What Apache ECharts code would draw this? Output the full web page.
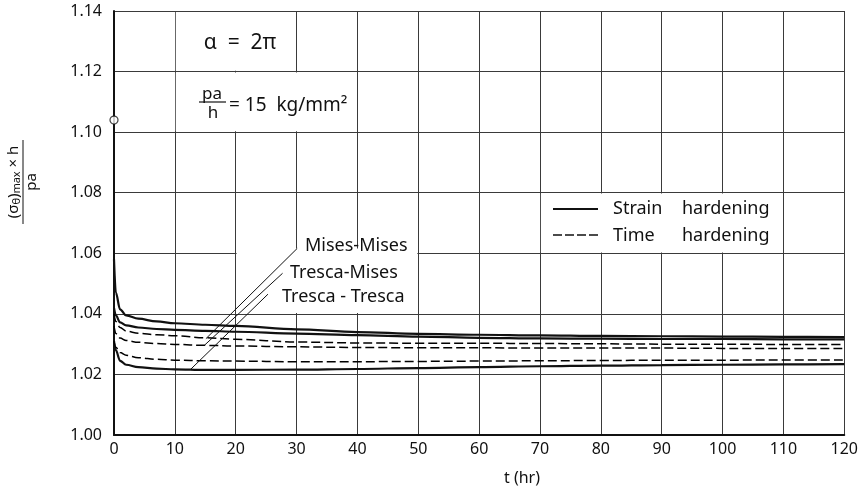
<!DOCTYPE html>
<html><head><meta charset="utf-8">
<script src="https://cdn.jsdelivr.net/npm/echarts@6/dist/echarts.min.js"></script>
<style>html,body{margin:0;padding:0;background:#fff}#c{width:861px;height:493px}</style>
</head><body><div id="c"></div>
<script>
// ---- data ----
const tHours = [0, 0.3, 1, 2, 4, 7, 10, 15, 20, 30, 40, 50, 60, 70, 80, 90, 100, 110, 120];
const strainMisesMises   = [1.058, 1.047, 1.0415, 1.0395, 1.0384, 1.0375, 1.0369, 1.0364, 1.0360, 1.0349, 1.0340, 1.0334, 1.0331, 1.0329, 1.0327, 1.0326, 1.0325, 1.0324, 1.0323];
const strainTrescaMises  = [1.042, 1.0395, 1.0372, 1.0362, 1.0355, 1.0350, 1.0347, 1.0344, 1.0341, 1.0335, 1.0330, 1.0325, 1.0321, 1.0319, 1.0318, 1.0317, 1.0317, 1.0316, 1.0316];
const strainTrescaTresca = [1.031, 1.028, 1.0245, 1.0232, 1.0224, 1.0219, 1.0217, 1.0215, 1.0215, 1.0216, 1.0218, 1.0221, 1.0224, 1.0227, 1.0229, 1.0231, 1.0232, 1.0233, 1.0234];
const timeMisesMises     = [1.040, 1.0375, 1.0355, 1.0343, 1.0336, 1.0331, 1.0328, 1.0321, 1.0316, 1.0307, 1.0304, 1.0303, 1.0303, 1.0302, 1.0301, 1.0300, 1.0300, 1.0299, 1.0299];
const timeTrescaMises    = [1.036, 1.0335, 1.0320, 1.0312, 1.0306, 1.0302, 1.0299, 1.0296, 1.0294, 1.0291, 1.0289, 1.0288, 1.0288, 1.0287, 1.0287, 1.0287, 1.0286, 1.0286, 1.0286];
const timeTrescaTresca   = [1.031, 1.029, 1.0272, 1.0263, 1.0255, 1.0250, 1.0247, 1.0245, 1.0244, 1.0242, 1.0242, 1.0243, 1.0244, 1.0245, 1.0246, 1.0247, 1.0247, 1.0248, 1.0248];
const initialValue = [[0, 1.104]];
const xMin = 0, xMax = 120, xStep = 10;
const yMin = 1.00, yMax = 1.14, yStep = 0.02;
const curveLabels = ['Mises-Mises', 'Tresca-Mises', 'Tresca - Tresca'];
const legendNames = ['Strain hardening', 'Time hardening'];

const FONT = 'Noto Sans';
const INK = '#111';
const pairs = d => tHours.map((t, i) => [t, d[i]]);
const solid = d => ({
  name: legendNames[0], type: 'line', data: pairs(d), symbol: 'none', smooth: 0.35, smoothMonotone: 'x',
  lineStyle: { color: INK, width: 2.2 }, z: 4, silent: true
});
const dashed = d => ({
  name: legendNames[1], type: 'line', data: pairs(d), symbol: 'none', smooth: 0.35, smoothMonotone: 'x',
  lineStyle: { color: '#000', width: 1.5, type: [9, 4] }, z: 4, silent: true
});

const chart = echarts.init(document.getElementById('c'));
const option = {
  animation: false,
  backgroundColor: '#fff',
  grid: { left: 114, right: 16, top: 11, bottom: 58 },
  xAxis: {
    type: 'value', min: xMin, max: xMax, interval: xStep,
    axisLine: { show: true, onZero: false, lineStyle: { color: INK, width: 2 } },
    axisTick: { show: false },
    axisLabel: { fontFamily: FONT, fontSize: 16, color: INK, margin: 6 },
    splitLine: { show: true, lineStyle: { color: '#3a3a3a', width: 1 } }
  },
  yAxis: {
    type: 'value', min: yMin, max: yMax, interval: yStep,
    axisLine: { show: true, lineStyle: { color: INK, width: 2 } },
    axisTick: { show: false },
    axisLabel: { fontFamily: FONT, fontSize: 16, color: INK, margin: 12, formatter: v => v.toFixed(2) },
    splitLine: { show: true, lineStyle: { color: '#3a3a3a', width: 1 } }
  },
  series: [
    {
      type: 'line', data: [], z: 3, silent: true,
      markArea: {
        silent: true,
        itemStyle: { color: '#fff', opacity: 1 },
        data: [
          [{ coord: [10.15, 1.1203] }, { coord: [29.85, 1.1397] }],
          [{ coord: [10.15, 1.1003] }, { coord: [39.85, 1.1197] }],
          [{ coord: [70.15, 1.0603] }, { coord: [109.85, 1.0797] }],
          [{ coord: [20.15, 1.0403] }, { coord: [49.85, 1.0616] }]
        ]
      },
      markLine: {
        silent: true, symbol: ['none', 'none'], label: { show: false },
        lineStyle: { color: INK, width: 1, type: 'solid' },
        data: [
          [{ coord: [30.1, 1.0616] }, { coord: [15.1, 1.0318] }],
          [{ coord: [27.7, 1.0534] }, { coord: [14.9, 1.0297] }],
          [{ coord: [25.3, 1.0465] }, { coord: [12.5, 1.0215] }]
        ]
      }
    },
    solid(strainMisesMises), solid(strainTrescaMises), solid(strainTrescaTresca),
    dashed(timeMisesMises), dashed(timeTrescaMises), dashed(timeTrescaTresca),
    {
      type: 'scatter', data: initialValue, symbol: 'circle', symbolSize: 8, z: 6, silent: true,
      itemStyle: { color: '#fff', borderColor: INK, borderWidth: 1.2 }
    }
  ]
};
chart.setOption(option);

const Z = 100;
const txt = (x, y, text, size, align) => ({
  type: 'text', x, y, z: Z, silent: true,
  style: { text, fontFamily: FONT, fontSize: size, fill: INK, align: align || 'left', verticalAlign: 'middle' }
});
const seg = (x1, y1, x2, y2, w, dash) => ({
  type: 'line', z: Z, silent: true, shape: { x1, y1, x2, y2 },
  style: dash ? { stroke: INK, lineWidth: w, lineDash: dash } : { stroke: INK, lineWidth: w }
});

chart.setOption({
  graphic: [
    // title block
    txt(240, 43, 'α  =  2π', 21, 'center'),
    txt(212, 94, 'pa', 17, 'center'),
    seg(199, 102, 226, 102, 1.2),
    txt(213, 113, 'h', 17, 'center'),
    txt(229, 106, '= 15  kg/mm²', 19, 'left'),
    // curve labels
    txt(305, 246, curveLabels[0], 18),
    txt(290, 273, curveLabels[1], 18),
    txt(282, 297, curveLabels[2], 18),
    // legend
    seg(553, 209, 598, 209, 2.2),
    seg(553, 235, 598, 235, 1.4, [9, 3]),
    txt(613, 209, legendNames[0].split(' ')[0], 18),
    txt(682, 209, legendNames[0].split(' ')[1], 18),
    txt(613, 236, legendNames[1].split(' ')[0], 18),
    txt(682, 236, legendNames[1].split(' ')[1], 18),
    // x axis title
    txt(522, 478, 't (hr)', 16, 'center'),
    // y axis title (rotated fraction)
    {
      type: 'group', x: 23, y: 182, rotation: Math.PI / 2, silent: true, z: Z,
      children: [
        {
          type: 'text', x: 0, y: -9, z: Z, silent: true,
          style: {
            text: '(σ{s|θ}){s|max} × h', fontFamily: FONT, fontSize: 15, fill: INK, align: 'center', verticalAlign: 'middle',
            rich: { s: { fontFamily: FONT, fontSize: 11, fill: INK, verticalAlign: 'bottom', padding: [6, 0, 0, 0] } }
          }
        },
        { type: 'line', z: Z, silent: true, shape: { x1: -42, y1: 0, x2: 42, y2: 0 }, style: { stroke: INK, lineWidth: 1 } },
        { type: 'text', x: 0, y: 9, z: Z, silent: true, style: { text: 'pa', fontFamily: FONT, fontSize: 15, fill: INK, align: 'center', verticalAlign: 'middle' } }
      ]
    }
  ]
});
</script>
</body></html>
